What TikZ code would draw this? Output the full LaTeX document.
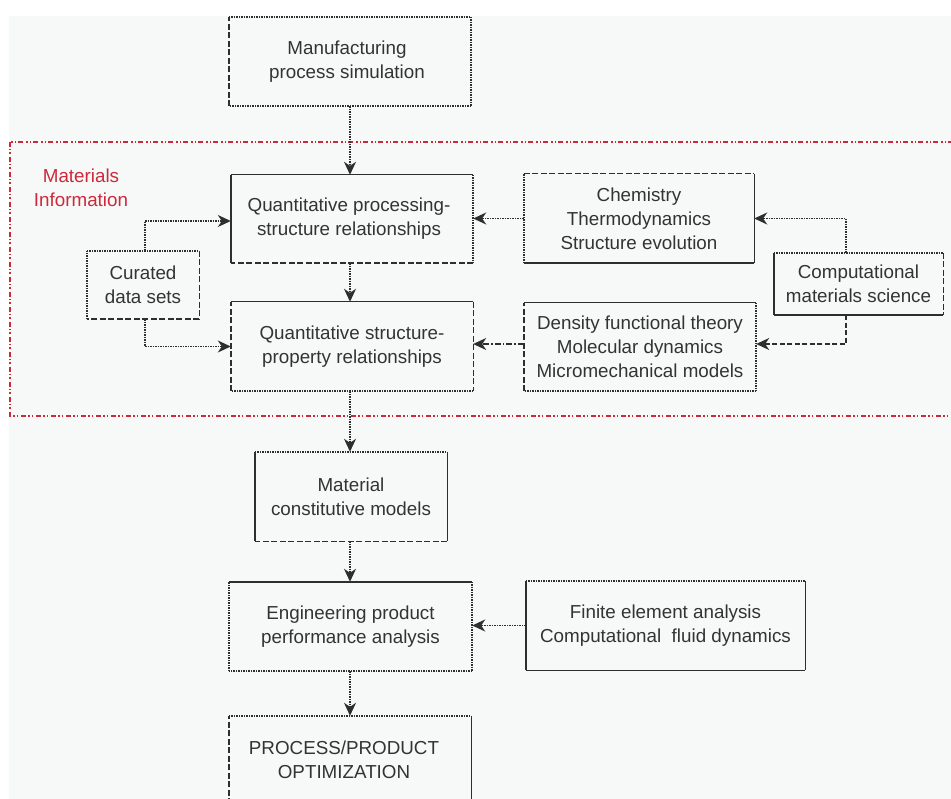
\documentclass[tikz,border=0pt]{standalone}
\usepackage{fontspec}
\setmainfont{Liberation Sans}
\usetikzlibrary{arrows.meta}
\definecolor{bgc}{HTML}{F7F9F9}
\definecolor{txt}{HTML}{333333}
\definecolor{lnc}{HTML}{2E2E2E}
\definecolor{redc}{HTML}{CC2A3A}
\tikzset{
  box/.style={rectangle, inner sep=0pt, align=center, text=txt,
    font=\fontsize{18.8}{24}\selectfont},
  sS/.style={draw=lnc, line width=1.4pt},
  sD/.style={draw=lnc, line width=1.4pt, dash pattern=on 6pt off 2.5pt},
  sT/.style={draw=lnc, line width=1.5pt, dash pattern=on 1.5pt off 1pt},
  conn/.style={draw=lnc, line width=1.5pt, dash pattern=on 1.5pt off 1pt,
    -{Stealth[length=13pt,width=12pt,inset=4pt]}},
  connD/.style={conn, dash pattern=on 5pt off 2.5pt},
  connDD/.style={conn, dash pattern=on 6pt off 2pt on 1.5pt off 2pt},
  redregion/.style={draw=redc, line width=1.2pt, dash pattern=on 5pt off 2pt on 1.5pt off 2pt on 1.5pt off 3pt},
}
% sides: node, top, right, bottom, left
\newcommand{\boxsides}[5]{%
  \draw[#2] (#1.north west) -- (#1.north east);
  \draw[#3] (#1.north east) -- (#1.south east);
  \draw[#4] (#1.south east) -- (#1.south west);
  \draw[#5] (#1.south west) -- (#1.north west);}
\begin{document}
\begin{tikzpicture}[x=1pt,y=-1pt]
\useasboundingbox (0,0) rectangle (951,799);
\fill[bgc] (9,16) rectangle (951,799);
\draw[redregion] (10,142) rectangle (965,416);

\node[box, text=redc] (matinfo) at (81,187.5) {Materials\\Information};

\node[box, minimum width=242pt, minimum height=89pt] (mfg) at (350,61.5) {Manufacturing\hspace*{6pt}\\process simulation\hspace*{6pt}};
\node[box, minimum width=242pt, minimum height=88pt] (qps) at (352,219) {Quantitative processing-\hspace*{6pt}\\structure relationships\hspace*{6pt}};
\node[box, minimum width=242pt, minimum height=89pt] (qsp) at (352,346.5) {Quantitative structure-\\property relationships};
\node[box, minimum width=112pt, minimum height=68pt] (cur) at (143,285) {Curated\\data sets};
\node[box, minimum width=230pt, minimum height=89pt] (chem) at (639,218.5) {Chemistry\\Thermodynamics\\Structure evolution};
\node[box, minimum width=169pt, minimum height=62pt] (cms) at (858.5,284) {Computational\\materials science};
\node[box, minimum width=232pt, minimum height=88pt] (dft) at (640,347) {Density functional theory\\Molecular dynamics\\Micromechanical models};
\node[box, minimum width=192pt, minimum height=89pt] (mat) at (351,496.5) {Material\\constitutive models};
\node[box, minimum width=243pt, minimum height=89pt] (eng) at (350.5,626.5) {Engineering product\\performance analysis};
\node[box, minimum width=279pt, minimum height=89pt] (fea) at (665.5,625.5) {Finite element analysis\\Computational\ \ fluid dynamics};
\node[box, minimum width=242pt, minimum height=88pt] (opt) at (350,760) {PROCESS/PRODUCT\hspace*{12pt}\\OPTIMIZATION\hspace*{12pt}};

\boxsides{mfg}{sT}{sT}{sT}{sD}
\boxsides{qps}{sS}{sT}{sD}{sS}
\boxsides{qsp}{sS}{sD}{sT}{sD}
\boxsides{cur}{sT}{sD}{sD}{sT}
\boxsides{chem}{sD}{sS}{sS}{sT}
\boxsides{cms}{sT}{sD}{sS}{sS}
\boxsides{dft}{sS}{sT}{sT}{sD}
\boxsides{mat}{sT}{sS}{sD}{sS}
\boxsides{eng}{sS}{sT}{sT}{sT}
\boxsides{fea}{sT}{sS}{sS}{sS}
\boxsides{opt}{sT}{sS}{sS}{sD}

\draw[conn] (mfg.south) -- (mfg.south |- qps.north);
\draw[conn] ([xshift=-2pt]qps.south) -- ([xshift=-2pt]qps.south |- qsp.north);
\draw[conn] ([xshift=-2pt]qsp.south) -- ([xshift=-2pt]qsp.south |- mat.north);
\draw[conn] ([xshift=-1pt]mat.south) -- ([xshift=-1pt]mat.south |- eng.north);
\draw[conn] ([xshift=-0.5pt]eng.south) -- ([xshift=-0.5pt]eng.south |- opt.north);
\draw[conn] (chem.west) -- (chem.west -| qps.east);
\draw[connDD] ([yshift=3pt]dft.west) -- ([yshift=3pt]dft.west -| qsp.east);
\draw[conn] ([xshift=-12.5pt]cms.north) |- (chem.east);
\draw[connD] ([xshift=-12.5pt]cms.south) |- ([yshift=3pt]dft.east);
\draw[conn] ([xshift=2pt]cur.north) |- ([yshift=-2pt]qps.west);
\draw[conn] ([xshift=2pt]cur.south) |- (qsp.west);
\draw[conn] (fea.west) -- (fea.west -| eng.east);
\end{tikzpicture}
\end{document}
